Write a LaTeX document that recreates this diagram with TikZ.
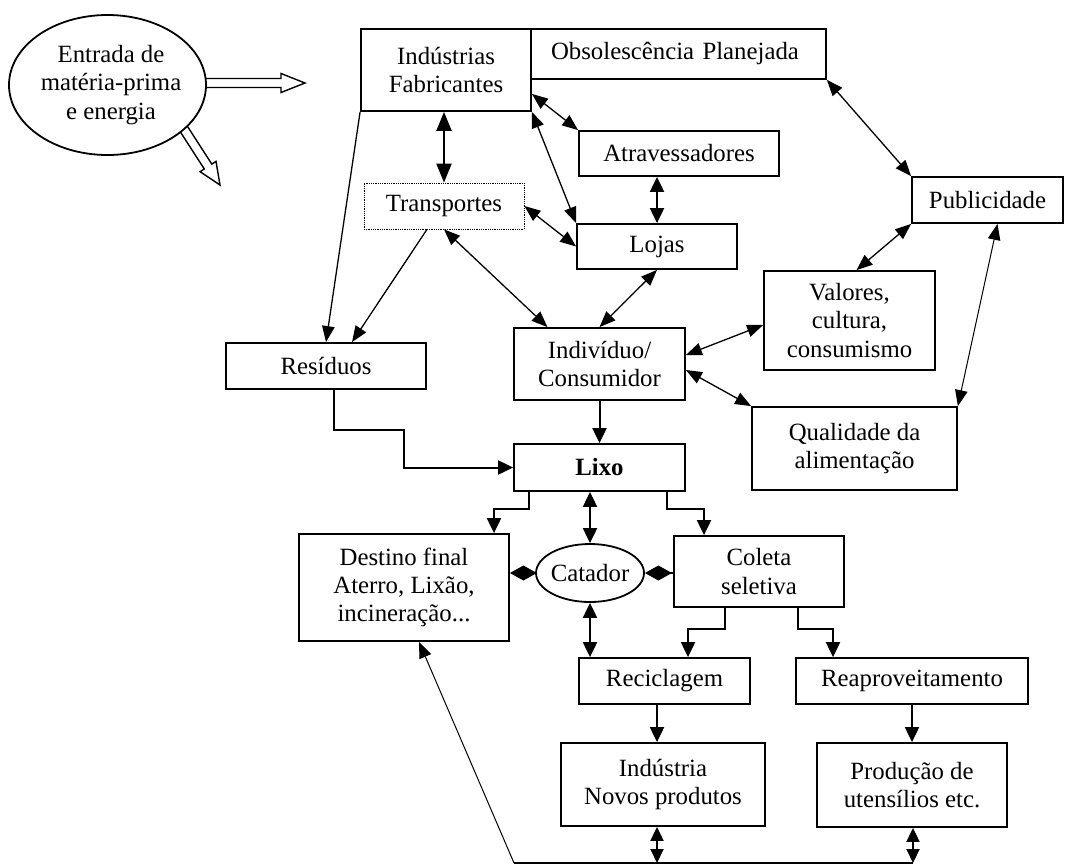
\documentclass[tikz,border=0pt]{standalone}
\usepackage{fontspec}
\setmainfont{Liberation Serif}
\usetikzlibrary{arrows.meta,calc,shapes.geometric}
\begin{document}
\begin{tikzpicture}[x=1pt,y=-1pt,
  txt/.style={font=\fontsize{24.8}{28.3}\selectfont, align=center, inner sep=0pt},
  box/.style={txt, draw, line width=1.8pt},
  vln/.style={line width=2pt, >={Triangle[length=15pt,width=14pt]}},
  dln/.style={line width=1.3pt, >={Triangle[length=16pt,width=12.5pt]}},
  >={Triangle[length=16pt,width=12.5pt]},
  dia/.style={line width=1.8pt, -{Diamond[length=27pt,width=15pt]}},
  blk/.style={draw, line width=1.4pt, fill=white}
]
\useasboundingbox (0,0) rectangle (1073,865);

% block arrows from the source ellipse
\draw[blk] (195,78.5) -- (281,78.5) -- (281,73.5) -- (305,83) -- (281,92.5) -- (281,87.5) -- (195,87.5) -- cycle;
\draw[blk] (172.8,120.2) -- (204.3,169.0) -- (200.1,171.7) -- (220,185) -- (216.0,161.4) -- (211.8,164.1) -- (180.4,115.4) -- cycle;
\node[ellipse, draw, line width=1.8pt, fill=white, minimum width=197, minimum height=140, inner sep=0pt] (src) at (107.5,85) {};
\node[txt] (srct) at (111,85) {Entrada de\\matéria-prima\\e energia};

% boxes
\node[box, minimum width=170, minimum height=82] (ind) at (446,70) {Indústrias\\Fabricantes};
\node[box, minimum width=295, minimum height=50, text width=255, align=left] (obs) at (678.5,54) {Obsolescência Planejada};
\node[box, minimum width=200, minimum height=45] (atr) at (679,153.5) {Atravessadores};
\node[box, line width=0.8pt, densely dotted, minimum width=160, minimum height=46] (transp) at (444,206) {Transportes};
\node[box, minimum width=160, minimum height=45] (loj) at (657,246.5) {Lojas};
\node[box, minimum width=151, minimum height=46] (pub) at (987.5,200) {Publicidade};
\node[box, minimum width=171, minimum height=99] (val) at (849.5,320.5) {Valores,\\cultura,\\consumismo};
\node[box, minimum width=200, minimum height=46] (res) at (326,366) {Resíduos};
\node[box, minimum width=171, minimum height=72] (indv) at (599.5,364) {Indivíduo/\\Consumidor};
\node[box, minimum width=205, minimum height=83] (qual) at (854.5,448.5) {Qualidade da\\alimentação};
\node[box, minimum width=171, minimum height=47, font=\fontsize{24.8}{28.3}\selectfont\bfseries] (lixo) at (599.5,467.5) {Lixo};
\node[box, minimum width=210, minimum height=107] (dest) at (404,587.5) {Destino final\\Aterro, Lixão,\\incineração...};
\node[ellipse, draw, line width=1.8pt, minimum width=108, minimum height=58, inner sep=0pt] (cat) at (590,573) {};
\node[txt] (catt) at (cat) {Catador};
\node[box, minimum width=170, minimum height=71] (col) at (759,571.5) {Coleta\\seletiva};
\node[box, minimum width=171, minimum height=46] (rec) at (664.5,681) {Reciclagem};
\node[box, minimum width=232, minimum height=46] (reap) at (912,681) {Reaproveitamento};
\node[box, minimum width=204, minimum height=83] (indn) at (663,784.5) {Indústria\\Novos produtos};
\node[box, minimum width=190, minimum height=84] (prod) at (912,785) {Produção de\\utensílios etc.};

\coordinate (b0) at (514,863);
\coordinate (b1) at (657,863);
\coordinate (b2) at (913,863);

% upper connectors
\draw[vln,<->,>={Triangle[length=19pt,width=15pt]}] (ind.south -| transp.north) -- (transp.north);
\draw[dln,<->] ($(ind.south east)+(0,-18)$) -- (atr.north west);
\draw[dln,<->] (ind.south east) -- (loj.north west);
\draw[dln,<->] (transp.east) -- (loj.west);
\draw[vln,<->] (atr.south -| loj.north) -- (loj.north);
\draw[dln,<->] (obs.south east) -- (pub.north west);
\draw[dln,<->] (pub.south west) -- ($(val.north)+(7,0)$);
\draw[line width=1pt,<->] ($(pub.south)+(10,0)$) -- (qual.north east);
\draw[dln,->] (ind.south west) -- (res.north);
\draw[dln,->] ($(transp.south)+(-17,0)$) -- ($(res.north)+(26,0)$);
\draw[dln,<->] (transp.south) -- ($(indv.north)+(-52,0)$);
\draw[dln,<->] (loj.south) -- (indv.north);
\draw[dln,<->] ($(indv.east)+(0,-9)$) -- ($(val.west)+(0,4.5)$);
\draw[dln,<->] ($(indv.east)+(0,6)$) -- (qual.north west);
\draw[vln,->] (indv.south) -- (lixo.north);
\draw[vln,->] ($(res.south)+(8,0)$) -- ++(0,40) -- ++(70,0) |- (lixo.west);

% lower connectors
\draw[vln,->] ($(lixo.south)+(-70.5,0)$) -- ++(0,17) -| ($(dest.north)+(90,0)$);
\draw[vln,<->] (lixo.south -| cat.north) -- (cat.north);
\draw[vln,->] ($(lixo.south)+(67.5,0)$) -- ++(0,17) -| ($(col.north)+(-55,0)$);
\draw[dia] (cat.west) -- (cat.west -| dest.east);
\draw[dia] (col.west |- cat.east) -- (cat.east);
\draw[vln,<->] (cat.south) -- (cat.south |- rec.north);
\draw[vln,->] ($(col.south)+(-34,0)$) -- ++(0,21) -| ($(rec.north)+(23.5,0)$);
\draw[vln,->] ($(col.south)+(39,0)$) -- ++(0,21) -| ($(reap.north)+(-79,0)$);
\draw[vln,->] ($(rec.south)+(-7.5,0)$) -- ($(indn.north)+(-6,0)$);
\draw[vln,->] (reap.south) -- (prod.north);
\draw[dln] (b0) -- (b2);
\draw[line width=1pt,->] (b0) -- ($(dest.south)+(15,0)$);
\draw[vln,<->,>={Triangle[length=14pt,width=13pt]}] ($(indn.south)+(-6,0)$) -- (b1);
\draw[vln,<->,>={Triangle[length=14pt,width=13pt]}] ($(prod.south)+(1,0)$) -- (b2);
\end{tikzpicture}
\end{document}
